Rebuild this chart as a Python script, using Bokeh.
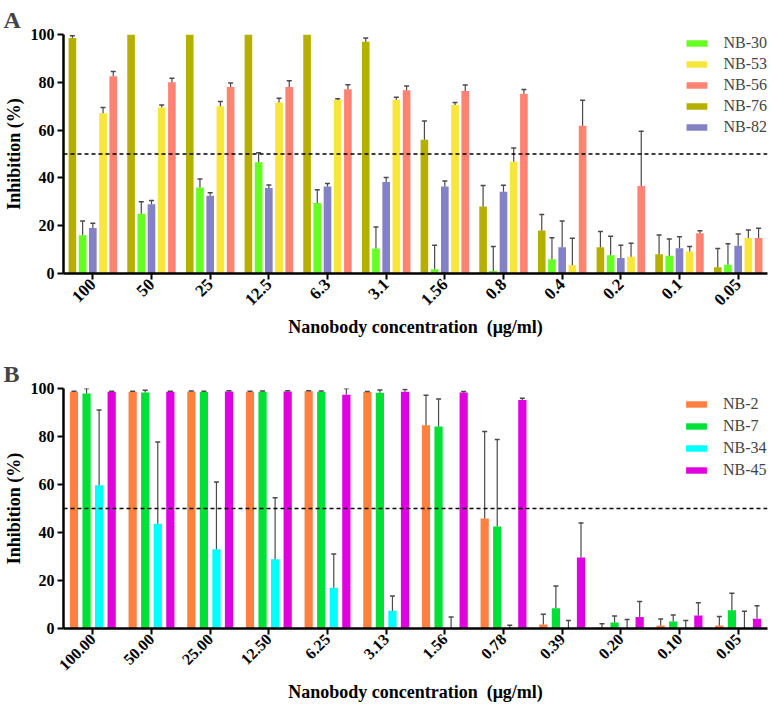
import numpy as np
from bokeh.plotting import figure
from bokeh.models import (ColumnDataSource, Span, Legend, LegendItem, Range1d,
                          FactorRange, FixedTicker)
from bokeh.transform import dodge
from bokeh.layouts import column
from bokeh.embed import file_html
from bokeh.resources import INLINE

# ---------------- Panel A data ----------------
conc_a = ["100", "50", "25", "12.5", "6.3", "3.1", "1.56", "0.8", "0.4", "0.2", "0.1", "0.05"]
names_a = ["NB-30", "NB-53", "NB-56", "NB-76", "NB-82"]
nb30 = [16, 25, 36, 46.5, 29.5, 10.5, 1.8, 1.0, 6, 7.6, 7.4, 3.7]
nb30_err = [6, 5, 3.5, 4, 5.5, 9, 10, 10.3, 9, 8, 7, 8.8]
nb53 = [67, 69.5, 70, 71.5, 72.6, 72.7, 70.5, 46.8, 3.4, 7, 9.2, 14.9]
nb53_err = [2.5, 1, 2, 1.8, 0.5, 1, 1.1, 5.7, 11.3, 5.7, 2.1, 3.3]
nb56 = [82.5, 80, 78, 78, 77.1, 76.7, 76.4, 75.2, 61.8, 36.6, 16.8, 14.9]
nb56_err = [2, 1.7, 1.7, 2.6, 1.9, 1.8, 2.5, 1.8, 10.7, 22.9, 1.1, 4]
nb76 = [98.5, 100, 100, 100, 100, 97, 56, 28, 18, 11, 8.1, 2.6]
nb76_err = [1, 0, 0, 0, 0, 1.5, 7.8, 8.8, 6.7, 6.6, 8, 7.9]
nb82 = [19, 29, 32.5, 35.8, 36.4, 38.3, 36.4, 34.2, 11, 6.5, 10.6, 11.6]
nb82_err = [2, 1.5, 1.3, 1.2, 1.3, 1.9, 2.3, 2.7, 11, 5.3, 4.8, 4.9]

# ---------------- Panel B data ----------------
conc_b = ["100.00", "50.00", "25.00", "12.50", "6.25", "3.13", "1.56", "0.78", "0.39", "0.20", "0.10", "0.05"]
names_b = ["NB-2", "NB-7", "NB-34", "NB-45"]
nb2 = [98.6, 98.6, 98.8, 98.6, 98.9, 98.5, 84.7, 45.8, 1.7, 0.4, 1.2, 1.2]
nb2_err = [0.3, 0.3, 0.2, 0.3, 0.2, 0.3, 12.5, 36.3, 4.2, 1.6, 2.8, 3.8]
nb7 = [97.9, 98.3, 98.5, 98.6, 98.6, 98.2, 84.2, 42.5, 8.4, 2.5, 2.9, 7.6]
nb7_err = [2.1, 1.0, 0.4, 0.4, 0.4, 1.2, 11.4, 36.2, 9.3, 2.7, 2.7, 7.1]
nb34 = [59.7, 43.6, 33, 28.9, 17, 7.4, 0, 0, 0, 0, 0, 0]
nb34_err = [31.3, 34.1, 28, 25.6, 14, 6.1, 4.8, 1.4, 3.3, 3.7, 3.3, 7.2]
nb45 = [98.6, 98.6, 98.8, 98.8, 97.4, 98.6, 98.3, 95.2, 29.6, 4.8, 5.4, 4.1]
nb45_err = [0.3, 0.3, 0.3, 0.3, 2.6, 1, 0.5, 0.7, 14.4, 6.5, 5.3, 5.4]

x_title = "Nanobody concentration\u00a0\u00a0(\u03bcg/ml)"
y_title = "Inhibition (%)"

FONT = "serif"
ERR_COLOR = "#4a4a4a"


def build(cats, series, draw_order, legend_order, colors, bar_w, step,
          height, top, bottom, letter, legend_loc, legend_spacing, tick_size):
    p = figure(x_range=FactorRange(*cats, range_padding=0), y_range=Range1d(0, 100),
               width=769, height=height, output_backend="svg", toolbar_location=None,
               min_border_left=57, min_border_right=2, min_border_top=top,
               min_border_bottom=bottom)
    n = len(draw_order)
    renderers = {}
    for i, name in enumerate(draw_order):
        vals, errs = series[name]
        off = (i - (n - 1) / 2.0) * step
        src = ColumnDataSource(dict(cat=cats, top=vals))
        r = p.vbar(x=dodge("cat", off, range=p.x_range), top="top", width=bar_w,
                   fill_color=colors[name], line_color=None, source=src)
        renderers[name] = r
        ec, eb, eu = [], [], []
        for c, v, e in zip(cats, vals, errs):
            if e > 0:
                ec.append(c); eb.append(v); eu.append(min(v + e, 100))
        esrc = ColumnDataSource(dict(cat=ec, base=eb, up=eu))
        xd = dodge("cat", off, range=p.x_range)
        p.segment(x0=xd, y0="base", x1=xd, y1="up", line_color=ERR_COLOR,
                  line_width=1.2, source=esrc)
        p.scatter(x=xd, y="up", marker="dash", size=5, line_color=ERR_COLOR,
                  line_width=1.5, source=esrc)

    p.add_layout(Span(location=50, dimension="width", line_color="black",
                      line_dash="4 3", line_width=1.5))

    items = [LegendItem(label=nm, renderers=[renderers[nm]]) for nm in legend_order]
    leg = Legend(items=items, location=legend_loc, glyph_width=26, glyph_height=8,
                 label_height=18, spacing=legend_spacing, padding=0, margin=0,
                 label_standoff=14, border_line_color=None, background_fill_alpha=0,
                 label_text_font=FONT, label_text_font_size="16px")
    p.add_layout(leg)

    p.title.text = letter
    p.title.align = "left"
    p.title.vertical_align = "top"
    p.title.offset = -60
    p.title.standoff = 0
    p.title.text_font = FONT
    p.title.text_font_style = "bold"
    p.title.text_font_size = "24px"

    p.xgrid.grid_line_color = None
    p.ygrid.grid_line_color = None
    p.outline_line_color = None
    p.yaxis.ticker = FixedTicker(ticks=[0, 20, 40, 60, 80, 100])
    for ax in (p.xaxis, p.yaxis):
        ax.axis_line_width = 2.5
        ax.major_tick_line_width = 2
        ax.major_tick_out = 6
        ax.major_tick_in = 0
        ax.minor_tick_line_color = None
        ax.major_label_text_font = FONT
        ax.major_label_text_font_style = "bold"
        ax.major_label_text_color = "black"
        ax.axis_label_text_font = FONT
        ax.axis_label_text_font_style = "bold"
        ax.axis_label_text_font_size = "18px"
        ax.axis_label_text_color = "black"
    p.yaxis.major_label_text_font_size = "16px"
    p.xaxis.major_label_text_font_size = tick_size
    p.xaxis.major_label_orientation = np.pi / 4
    p.xaxis.major_label_standoff = 2
    p.xaxis.axis_label_standoff = 4
    p.yaxis.major_label_standoff = 3
    p.yaxis.axis_label_standoff = 4
    p.xaxis.axis_label = x_title
    p.yaxis.axis_label = y_title
    return p


colors_a = {"NB-30": "#66FF22", "NB-53": "#F8E63C", "NB-56": "#FF8272",
            "NB-76": "#B5B000", "NB-82": "#8282C4"}
series_a = {"NB-30": (nb30, nb30_err), "NB-53": (nb53, nb53_err), "NB-56": (nb56, nb56_err),
            "NB-76": (nb76, nb76_err), "NB-82": (nb82, nb82_err)}
pA = build(conc_a, series_a, ["NB-76", "NB-30", "NB-82", "NB-53", "NB-56"], names_a,
           colors_a, 0.13, 0.174, 340, 34, 62, "A", "top_right", 3, "17px")

colors_b = {"NB-2": "#FF8040", "NB-7": "#00E036", "NB-34": "#00FFFF", "NB-45": "#E000E0"}
series_b = {"NB-2": (nb2, nb2_err), "NB-7": (nb7, nb7_err), "NB-34": (nb34, nb34_err),
            "NB-45": (nb45, nb45_err)}
pB = build(conc_b, series_b, ["NB-2", "NB-7", "NB-34", "NB-45"], names_b,
           colors_b, 0.14, 0.214, 365, 48, 75, "B", (620, 149), 4, "16px")

layout = column(pA, pB)
open("out.html", "w").write(file_html(layout, INLINE))
